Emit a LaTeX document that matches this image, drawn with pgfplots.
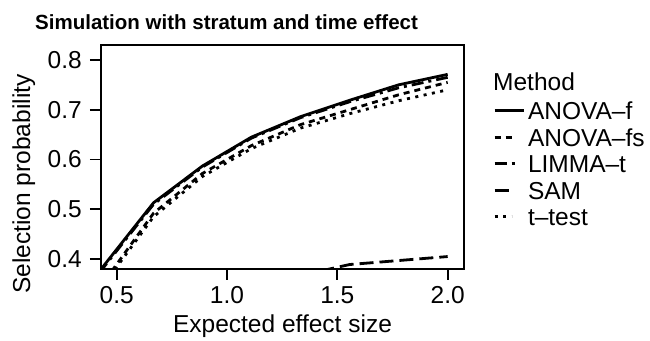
\documentclass[border=0pt]{standalone}
\usepackage{fontspec}
\setmainfont{Liberation Sans}
\usepackage{pgfplots}
\pgfplotsset{compat=1.18}
\pgfplotsset{
  legA/.style={legend image code/.code={\draw[##1] (0bp,0bp) -- (29bp,0bp);}},
  leg17/.style={legend image code/.code={\draw[##1] (0bp,0bp) -- (17bp,0bp);}},
  leg22/.style={legend image code/.code={\draw[##1] (0bp,0bp) -- (22bp,0bp);}},
  leg14/.style={legend image code/.code={\draw[##1] (0bp,0bp) -- (14bp,0bp);}},
}
\begin{document}
\begin{tikzpicture}
\begin{axis}[
  at={(101bp,72bp)}, anchor=south west,
  width=363bp, height=224bp, scale only axis,
  xmin=0.429, xmax=2.074, ymin=0.38, ymax=0.83,
  axis line style={line width=1.8bp},
  tick style={line width=1.8bp, black},
  tick align=outside, major tick length=11bp,
  xtick={0.5,1,1.5,2}, ytick={0.4,0.5,0.6,0.7,0.8},
  xtick pos=left, ytick pos=left,
  minor tick num=0,
  /pgf/number format/assume math mode=true,
  xticklabel={\pgfmathprintnumber[fixed,fixed zerofill,precision=1]{\tick}},
  yticklabel={\pgfmathprintnumber[fixed,fixed zerofill,precision=1]{\tick}},
  ticklabel style={font=\fontsize{24.5bp}{28bp}\selectfont, inner sep=0pt},
  xticklabel style={anchor=north, yshift=-6bp},
  yticklabel style={anchor=east, xshift=-8bp},
  clip=true,
  legend style={at={(1.0799,0.747)}, anchor=north west, draw=none, fill=none,
    font=\fontsize{24.5bp}{28bp}\selectfont, row sep=8.5bp, column sep=3bp,
    inner sep=0pt, cells={anchor=west},
    nodes={inner sep=0pt, text height=18bp, text depth=0pt}},
  legend cell align=left,
  legA,
]
\addplot[black, line width=2.8bp] coordinates {
 (0.222,0.25) (0.444,0.388) (0.667,0.513) (0.889,0.587) (1.111,0.645)
 (1.333,0.686) (1.556,0.719) (1.778,0.750) (2.0,0.771)};
\addlegendentry{ANOVA--f}
\addplot[black, line width=2.8bp, dash pattern=on 6bp off 5bp, leg17] coordinates {
 (0.222,0.24) (0.444,0.355) (0.667,0.492) (0.889,0.572) (1.111,0.628)
 (1.333,0.670) (1.556,0.700) (1.778,0.730) (2.0,0.755)};
\addlegendentry{ANOVA--fs}
\addplot[black, line width=2.8bp, dash pattern=on 12bp off 5bp on 3bp off 5bp, leg22] coordinates {
 (0.222,0.25) (0.444,0.385) (0.667,0.510) (0.889,0.585) (1.111,0.643)
 (1.333,0.684) (1.556,0.716) (1.778,0.744) (2.0,0.765)};
\addlegendentry{LIMMA--t}
\addplot[black, line width=2.8bp, dash pattern=on 14bp off 6bp, leg14] coordinates {
 (0.889,0.33) (1.111,0.35) (1.333,0.367) (1.556,0.389) (1.778,0.397) (2.0,0.405)};
\addlegendentry{SAM}
\addplot[black, line width=2.8bp, dash pattern=on 3bp off 5.5bp, leg17] coordinates {
 (0.222,0.235) (0.444,0.35) (0.667,0.485) (0.889,0.566) (1.111,0.622)
 (1.333,0.663) (1.556,0.692) (1.778,0.718) (2.0,0.740)};
\addlegendentry{t--test}
\end{axis}
\node[anchor=base west, font=\bfseries\fontsize{20.5bp}{24bp}\selectfont, inner sep=0pt] at (35bp,311bp) {Simulation with stratum and time effect};
\node[anchor=base, font=\fontsize{24.5bp}{28bp}\selectfont, inner sep=0pt] at (282.5bp,8.5bp) {Expected effect size};
\node[anchor=base, rotate=90, font=\fontsize{24.5bp}{28bp}\selectfont, inner sep=0pt] at (30bp,157bp) {Selection probability};
\node[anchor=base west, font=\fontsize{24.5bp}{28bp}\selectfont, inner sep=0pt] at (493bp,250bp) {Method};
\pgfresetboundingbox
\path[use as bounding box] (0bp,0bp) rectangle (650bp,341bp);
\end{tikzpicture}
\end{document}
